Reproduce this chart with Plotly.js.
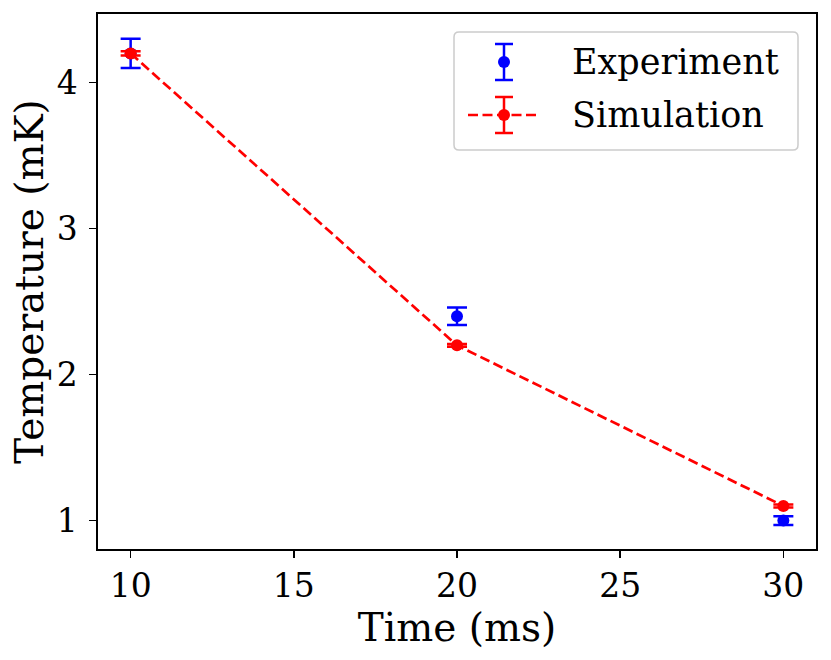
<!DOCTYPE html>
<html>
<head>
<meta charset="utf-8">
<script src="https://cdn.plot.ly/plotly-3.0.1.min.js"></script>
<style>html,body{margin:0;padding:0;background:#fff;}</style>
</head>
<body>
<div id="chart" style="width:831px;height:660px;"></div>
<script>
// ---- data ----
const timeMs = [10, 20, 30];
const expTemp = [4.2, 2.4, 1.0];
const expErr = [0.1, 0.06, 0.03];
const simTemp = [4.2, 2.2, 1.1];
const simErr = [0.015, 0.01, 0.01];
const seriesNames = ['Experiment', 'Simulation'];
const xTicks = [10, 15, 20, 25, 30];
const yTicks = [1, 2, 3, 4];

// ---- layout geometry (pixels) ----
const FW = 831, FH = 660;
const ML = 98, MR = 15, MT = 14, MB = 111;
const PW = FW - ML - MR, PH = FH - MT - MB;
const px = x => (x - ML) / PW;
const py = y => (MT + PH - y) / PH;
const FONT = 'DejaVu Serif, Liberation Serif, serif';
const BLUE = '#0000ff', RED = '#ff0000';
const DASH = '10px,4.5px';

const traces = [
  {
    x: timeMs, y: expTemp, name: seriesNames[0], type: 'scatter', mode: 'markers',
    marker: {color: BLUE, size: 12},
    error_y: {type: 'data', array: expErr, visible: true, color: BLUE, thickness: 2.5, width: 10},
    showlegend: false
  },
  {
    x: timeMs, y: simTemp, name: seriesNames[1], type: 'scatter', mode: 'lines+markers',
    line: {color: RED, width: 2.7, dash: DASH},
    marker: {color: RED, size: 12},
    error_y: {type: 'data', array: simErr, visible: true, color: RED, thickness: 2.5, width: 10},
    showlegend: false
  }
];

// ---- legend drawn as shapes + annotations ----
function roundRect(x0, y0, x1, y1, r) {
  const P = (x, y) => px(x) + ',' + py(y);
  return 'M' + P(x0 + r, y0) + ' L' + P(x1 - r, y0) + ' Q' + P(x1, y0) + ' ' + P(x1, y0 + r) +
    ' L' + P(x1, y1 - r) + ' Q' + P(x1, y1) + ' ' + P(x1 - r, y1) +
    ' L' + P(x0 + r, y1) + ' Q' + P(x0, y1) + ' ' + P(x0, y1 - r) +
    ' L' + P(x0, y0 + r) + ' Q' + P(x0, y0) + ' ' + P(x0 + r, y0) + ' Z';
}
function seg(x0, y0, x1, y1, color, width, dash) {
  return {type: 'line', xref: 'paper', yref: 'paper', x0: px(x0), y0: py(y0), x1: px(x1), y1: py(y1),
    line: {color: color, width: width, dash: dash || 'solid'}, layer: 'above'};
}
function dot(cx, cy, r, color) {
  return {type: 'circle', xref: 'paper', yref: 'paper', x0: px(cx - r), x1: px(cx + r), y0: py(cy + r), y1: py(cy - r),
    fillcolor: color, line: {width: 0}, layer: 'above'};
}
const LX = 504;
const rows = [{y: 62, color: BLUE, dashed: false}, {y: 115, color: RED, dashed: true}];
const shapes = [{
  type: 'path', xref: 'paper', yref: 'paper', path: roundRect(454, 32, 798, 150, 5),
  fillcolor: 'rgba(255,255,255,0.8)', line: {color: '#cccccc', width: 1.5}, layer: 'above'
}];
const annotations = [];
rows.forEach((r, i) => {
  if (r.dashed) shapes.push(seg(468, r.y, 540, r.y, r.color, 2.7, DASH));
  shapes.push(seg(LX, r.y - 18, LX, r.y + 18, r.color, 2.5));
  shapes.push(seg(LX - 9, r.y - 18, LX + 9, r.y - 18, r.color, 2.5));
  shapes.push(seg(LX - 9, r.y + 18, LX + 9, r.y + 18, r.color, 2.5));
  shapes.push(dot(LX, r.y, 6, r.color));
  annotations.push({
    xref: 'paper', yref: 'paper', x: px(570), y: py(r.y), xanchor: 'left', yanchor: 'middle',
    text: seriesNames[i], showarrow: false, font: {family: FONT, size: 35, color: '#000'}
  });
});

const axisCommon = {
  showgrid: false, zeroline: false, showline: true, mirror: true,
  linecolor: '#000', linewidth: 1.6, ticks: 'outside', ticklen: 7, tickwidth: 1.6, tickcolor: '#000',
  tickfont: {family: FONT, size: 33, color: '#000'}
};

const layout = {
  width: FW, height: FH,
  margin: {l: ML, r: MR, t: MT, b: MB, pad: 0},
  paper_bgcolor: '#fff', plot_bgcolor: '#fff',
  showlegend: false,
  xaxis: Object.assign({}, axisCommon, {
    range: [9, 31], tickmode: 'array', tickvals: xTicks, ticktext: xTicks.map(String),
    title: {text: 'Time (ms)', font: {family: FONT, size: 39, color: '#000'}, standoff: 4},
    automargin: false
  }),
  yaxis: Object.assign({}, axisCommon, {
    range: [0.805, 4.47], tickmode: 'array', tickvals: yTicks, ticktext: yTicks.map(String),
    title: {text: 'Temperature (mK)', font: {family: FONT, size: 39, color: '#000'}, standoff: 1},
    automargin: false, ticklabelstandoff: 5
  }),
  shapes: shapes,
  annotations: annotations
};

Plotly.newPlot('chart', traces, layout, {staticPlot: true, displayModeBar: false});
</script>
</body>
</html>
